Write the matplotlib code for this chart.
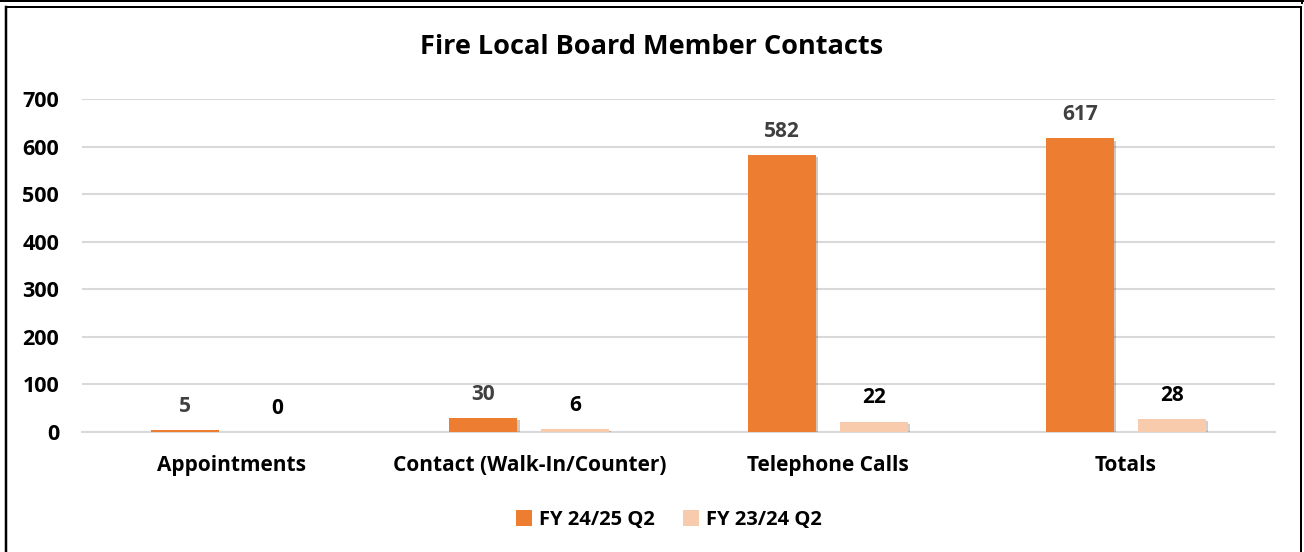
import numpy as np
import matplotlib
matplotlib.use("Agg")
import matplotlib.pyplot as plt
from matplotlib.lines import Line2D
import matplotlib.patheffects as pe

# data
categories = ["Appointments", "Contact (Walk-In/Counter)", "Telephone Calls", "Totals"]
fy2425_q2 = [5, 30, 582, 617]
fy2324_q2 = [0, 6, 22, 28]
series_names = ["FY 24/25 Q2", "FY 23/24 Q2"]

orange = "#ED7D31"
peach = "#F8CBAD"

plt.rcParams["font.family"] = ["Open Sans", "DejaVu Sans"]
plt.rcParams["font.weight"] = "bold"

W, H = 1304, 552
fig = plt.figure(figsize=(W / 100, H / 100), dpi=100)

# plot area in pixel terms
left, right, top, bottom = 82, 1275, 99, 432
ax = fig.add_axes([left / W, (H - bottom) / H, (right - left) / W, (bottom - top) / H])

x = np.arange(len(categories))
bw = 0.228
off = 0.154
shadow = [pe.SimplePatchShadow(offset=(1.5, -1.5), alpha=0.25), pe.Normal()]
b1 = ax.bar(x - off, fy2425_q2, bw, color=orange, label=series_names[0], zorder=3)
b2 = ax.bar(x + off, fy2324_q2, bw, color=peach, label=series_names[1], zorder=3)
for b in list(b1) + list(b2):
    b.set_path_effects(shadow)

for xi, v in zip(x - off, fy2425_q2):
    ax.annotate(str(v), (xi, v), xytext=(0, 17), textcoords="offset points",
                ha="center", va="center", fontsize=15, fontweight="bold", color="#404040")
for xi, v in zip(x + off, fy2324_q2):
    ax.annotate(str(v), (xi, v), xytext=(0, 17), textcoords="offset points",
                ha="center", va="center", fontsize=15, fontweight="bold", color="black")

ax.set_xlim(-0.5, len(categories) - 0.5)
ax.set_ylim(0, 700)
ax.set_yticks(range(0, 701, 100))
ax.set_xticks(x)
ax.set_xticklabels(categories, fontsize=15, fontweight="bold")
ax.tick_params(axis="y", length=0, pad=16.5, labelsize=15.5)
ax.tick_params(axis="x", length=0, pad=16.5)
ax.grid(axis="y", color="#D9D9D9", linewidth=1.5, zorder=0)
for s in ["top", "right", "left"]:
    ax.spines[s].set_visible(False)
ax.spines["bottom"].set_color("#D9D9D9")
ax.spines["bottom"].set_linewidth(1.5)

fig.text(652 / W, 1 - 47 / H, "Fire Local Board Member Contacts", ha="center", va="center",
         fontsize=19.5, fontweight="bold")

leg = fig.legend(loc="center", bbox_to_anchor=(669 / W, 1 - 520 / H), ncol=2, frameon=False,
                 fontsize=14.5, handlelength=0.8, handleheight=0.8, handletextpad=0.35,
                 columnspacing=1.4)
for h in leg.legend_handles:
    h.set_path_effects([])


def px_line(x0, y0, x1, y1, lw=2):
    fig.add_artist(Line2D([x0 / W, x1 / W], [1 - y0 / H, 1 - y1 / H], color="black",
                          linewidth=lw * 0.72, transform=fig.transFigure))


# outer border pieces
px_line(0, 1, 1303, 1)
px_line(1302, 0, 1302, 3)
px_line(5.5, 7, 1301, 7)
px_line(5.5, 7, 5.5, 552, lw=2.5)
px_line(1301, 7, 1301, 552)

fig.savefig("out.png", dpi=100)
